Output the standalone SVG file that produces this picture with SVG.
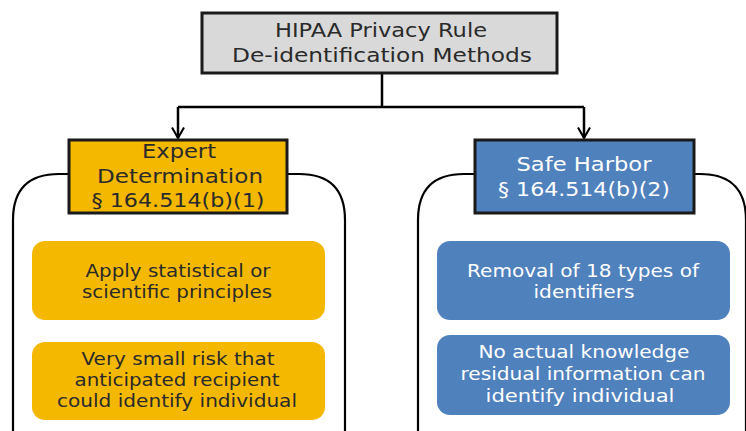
<svg xmlns="http://www.w3.org/2000/svg" width="746" height="431" viewBox="0 0 746 431">
<style>
text{font-family:"DejaVu Sans","Liberation Sans",sans-serif;text-anchor:middle}
.dk{fill:#2a2a2a}
.wt{fill:#ffffff}
.h{font-size:19px}
.b{font-size:18px}
.conn{stroke:#000;stroke-width:2.5;fill:none;stroke-linejoin:miter}
.cont{stroke:#000;stroke-width:2.2;fill:#fff}
.hdr{stroke:#1a1a1a;stroke-width:3}
</style>
<defs>
<marker id="arr" viewBox="0 0 10 10" refX="9" refY="5" markerWidth="6" markerHeight="6" orient="auto" markerUnits="strokeWidth">
<path d="M2,1 L9,5 L2,9" fill="none" stroke="#000" stroke-width="1.4"/>
</marker>
</defs>
<rect width="746" height="431" fill="#fff"/>
<g id="connectors">
<path class="conn" d="M382,73 V107"/>
<path class="conn" d="M178,107 H584"/>
<path class="conn" d="M178,107 V138" marker-end="url(#arr)"/>
<path class="conn" d="M584,107 V138" marker-end="url(#arr)"/>
</g>
<g id="container-left">
<path class="cont" d="M13,440 V220 Q13,174 59,174 H299 Q345,174 345,220 V440"/>
</g>
<g id="container-right">
<path class="cont" d="M418,440 V220 Q418,174 464,174 H700 Q746,174 746,220 V440"/>
</g>
<g id="root">
<rect x="202" y="13" width="355" height="60" fill="#d9d9d9" class="hdr"/>
<text class="dk h" x="381" y="37" textLength="212" lengthAdjust="spacingAndGlyphs">HIPAA Privacy Rule</text>
<text class="dk h" x="382" y="62" textLength="300" lengthAdjust="spacingAndGlyphs">De-identification Methods</text>
</g>
<g id="expert">
<rect x="69" y="140" width="218" height="73" fill="#f5b800" class="hdr"/>
<text class="dk h" x="179" y="158" textLength="74" lengthAdjust="spacingAndGlyphs">Expert</text>
<text class="dk h" x="180" y="183" textLength="166" lengthAdjust="spacingAndGlyphs">Determination</text>
<text class="dk h" x="178" y="207" textLength="173" lengthAdjust="spacingAndGlyphs">§ 164.514(b)(1)</text>
</g>
<g id="safe">
<rect x="475" y="140" width="219" height="73" fill="#4f81bd" class="hdr"/>
<text class="wt h" x="584" y="171" textLength="135" lengthAdjust="spacingAndGlyphs">Safe Harbor</text>
<text class="wt h" x="584" y="196" textLength="172" lengthAdjust="spacingAndGlyphs">§ 164.514(b)(2)</text>
</g>
<g id="expert-1">
<rect x="32" y="241" width="293" height="79" rx="13" fill="#f5b800"/>
<text class="dk b" x="178" y="277" textLength="185" lengthAdjust="spacingAndGlyphs">Apply statistical or</text>
<text class="dk b" x="177" y="298" textLength="190" lengthAdjust="spacingAndGlyphs">scientific principles</text>
</g>
<g id="expert-2">
<rect x="32" y="342" width="293" height="78" rx="13" fill="#f5b800"/>
<text class="dk b" x="178" y="365" textLength="193" lengthAdjust="spacingAndGlyphs">Very small risk that</text>
<text class="dk b" x="177" y="386" textLength="205" lengthAdjust="spacingAndGlyphs">anticipated recipient</text>
<text class="dk b" x="177" y="407" textLength="240" lengthAdjust="spacingAndGlyphs">could identify individual</text>
</g>
<g id="safe-1">
<rect x="437" y="241" width="293" height="79" rx="13" fill="#4f81bd"/>
<text class="wt b" x="583" y="277" textLength="232" lengthAdjust="spacingAndGlyphs">Removal of 18 types of</text>
<text class="wt b" x="584" y="298" textLength="101" lengthAdjust="spacingAndGlyphs">identifiers</text>
</g>
<g id="safe-2">
<rect x="437" y="335" width="293" height="80" rx="13" fill="#4f81bd"/>
<text class="wt b" x="584" y="358" textLength="211" lengthAdjust="spacingAndGlyphs">No actual knowledge</text>
<text class="wt b" x="583" y="380" textLength="245" lengthAdjust="spacingAndGlyphs">residual information can</text>
<text class="wt b" x="580" y="402" textLength="189" lengthAdjust="spacingAndGlyphs">identify individual</text>
</g>
</svg>
